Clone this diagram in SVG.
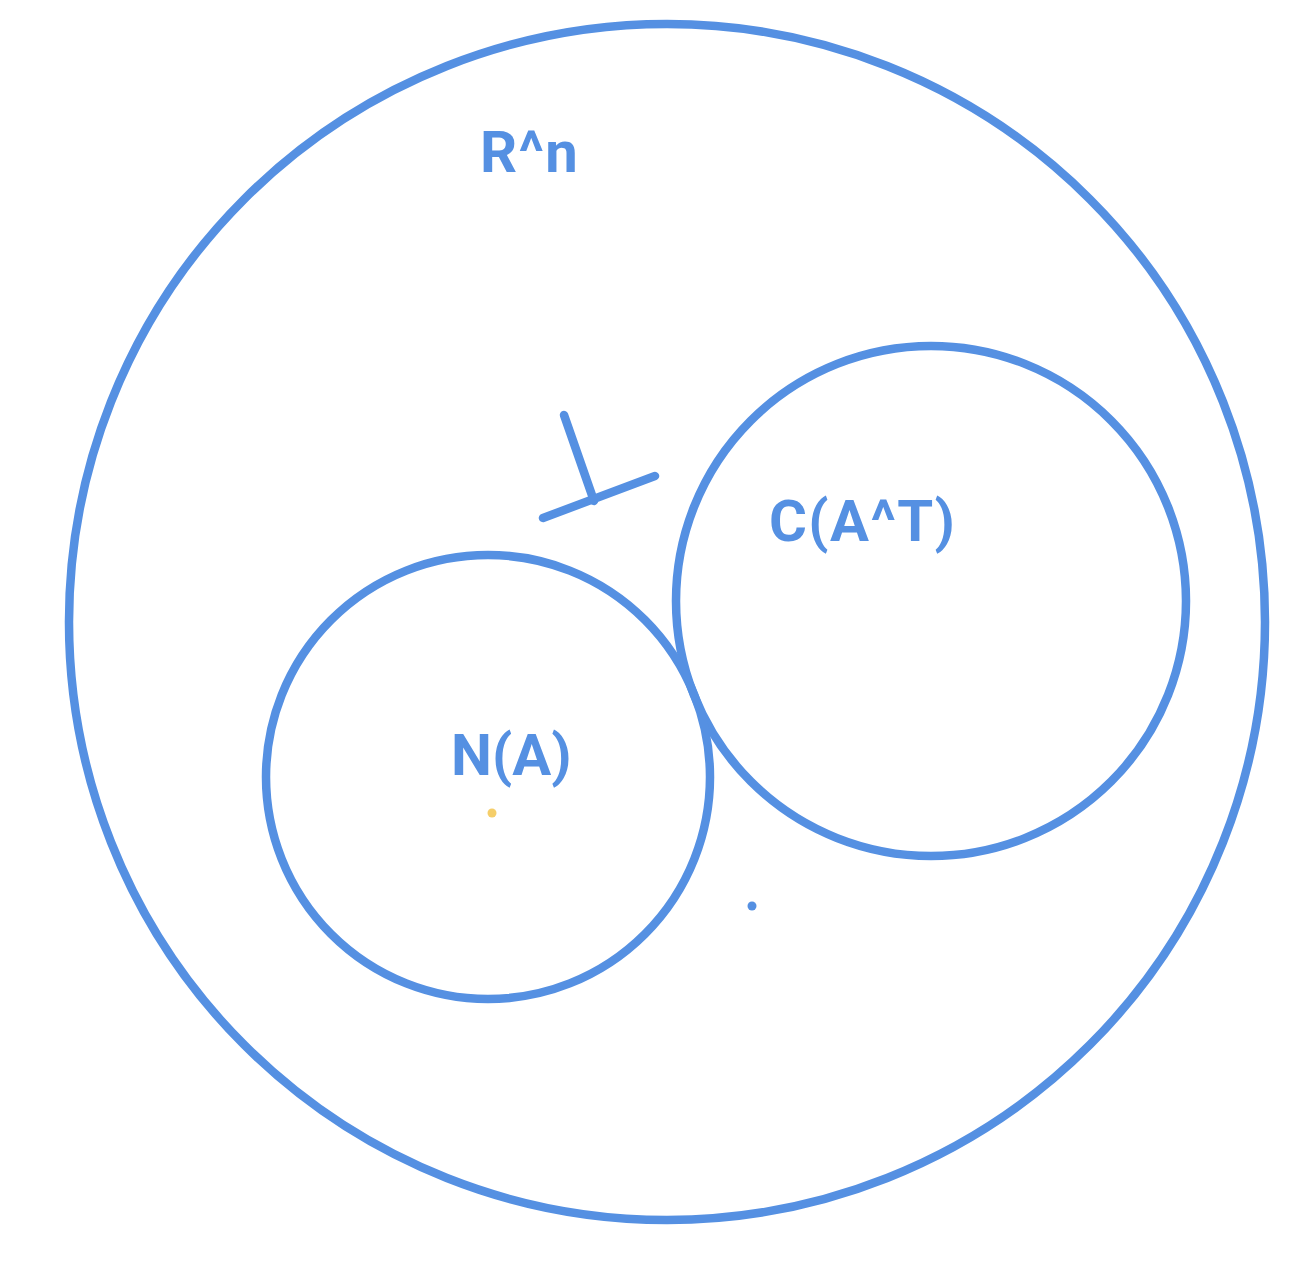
<svg xmlns="http://www.w3.org/2000/svg" width="1316" height="1270" viewBox="0 0 1316 1270">
<style>
.c{fill:none;stroke:#5590E2;stroke-width:8.5}
.l{stroke:#5590E2;stroke-width:8.5;stroke-linecap:round}
.t{font-family:Roboto,"Liberation Sans",sans-serif;font-weight:bold;font-size:58px;fill:#5590E2;letter-spacing:1.4px}
</style>
<rect width="1316" height="1270" fill="#fff"/>
<g id="rn">
<circle class="c" cx="667" cy="622" r="598"/>
<text class="t" x="480" y="172">R^n</text>
</g>
<g id="cat">
<circle class="c" cx="931" cy="601" r="255"/>
<text class="t" x="769" y="541">C(A^T)</text>
</g>
<g id="na">
<circle class="c" cx="488" cy="777" r="222"/>
<text class="t" x="451" y="775" style="letter-spacing:0">N(A)</text>
</g>
<g id="connectors">
<line class="l" x1="564" y1="415" x2="594" y2="501"/>
<line class="l" x1="543" y1="518" x2="655" y2="476"/>
</g>
<circle cx="492" cy="813" r="4.5" fill="#F5CE6A"/>
<circle cx="752" cy="906" r="4.5" fill="#5590E2"/>
</svg>
